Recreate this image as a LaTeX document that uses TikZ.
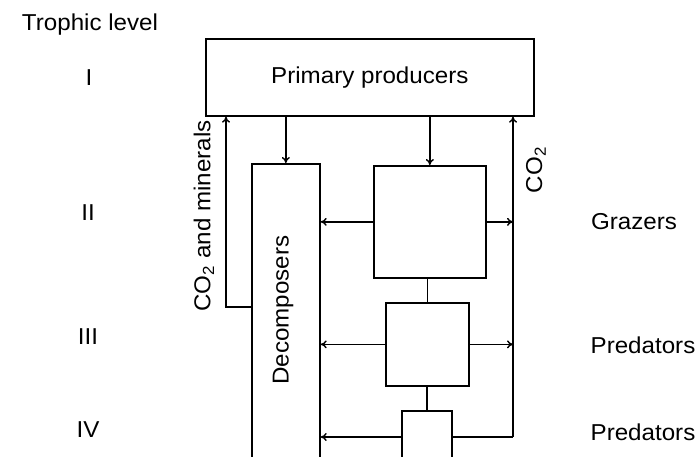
\documentclass[tikz,border=0pt]{standalone}
\usepackage{fontspec}
\setmainfont[FakeStretch=1.05]{Liberation Sans}
\usetikzlibrary{arrows.meta}
\tikzset{
  box/.style={draw, line width=1.7pt, inner sep=0pt, anchor=north west},
  arr/.style={line width=1.4pt, -{To[length=6pt,width=8pt]}},
  ln/.style={line width=1.4pt},
  lbl/.style={font=\fontsize{23}{25}\selectfont, inner sep=0pt},
}
\begin{document}
\begin{tikzpicture}[x=1pt,y=-1pt]
\useasboundingbox (0,0) rectangle (698,457);
\clip (0,0) rectangle (698,457);
% boxes
\node[box, minimum width=328pt, minimum height=77pt] (pp) at (205,38) {};
\node[lbl] (pptxt) at (pp.center) {Primary producers};
\node[box, minimum width=68pt, minimum height=300pt] (dec) at (251,163) {};
\node[lbl, rotate=90] (dectxt) at (283,310) {Decomposers};
\node[box, minimum width=112pt, minimum height=112pt] (gr) at (373,165) {};
\node[box, minimum width=83pt, minimum height=83pt] (p3) at (385,302) {};
\node[box, minimum width=50pt, minimum height=60pt] (p4) at (401,410) {};
\coordinate (cm) at (226,307);
\coordinate (c2) at (513,437);
% connectors
\draw[arr] (pp.south -| dec.north) -- (dec.north);
\draw[arr] (pp.south -| gr.north) -- (gr.north);
\draw[arr] (dec.west |- cm) -- (cm) -- (cm |- pp.south);
\draw[arr] (c2) -- (c2 |- pp.south);
\draw[arr] (gr.east) -- (gr.east -| c2);
\draw[arr] (gr.west) -- (gr.west -| dec.east);
\draw[ln] (p3.north) -- (p3.north |- gr.south);
\draw[arr] (p3.east) -- (p3.east -| c2);
\draw[arr] (p3.west) -- (p3.west -| dec.east);
\draw[ln] (p4.north) -- (p4.north |- p3.south);
\draw[ln] (p4.east |- c2) -- (c2);
\draw[arr] (p4.west |- c2) -- (dec.east |- c2);
% labels
\node[lbl, rotate=90] (cmtxt) at (204,216) {CO\textsubscript{2} and minerals};
\node[lbl, rotate=90] (c2txt) at (536,170) {CO\textsubscript{2}};
\node[lbl] (tl) at (90,25) {Trophic level};
\node[lbl] (l1) at (89,78) {I};
\node[lbl] (l2) at (88,213) {II};
\node[lbl] (l3) at (88,337) {III};
\node[lbl] (l4) at (88,430) {IV};
\node[lbl] (g) at (634,222) {Grazers};
\node[lbl] (pr3) at (643,345) {Predators};
\node[lbl] (pr4) at (643,432) {Predators};
\end{tikzpicture}
\end{document}
